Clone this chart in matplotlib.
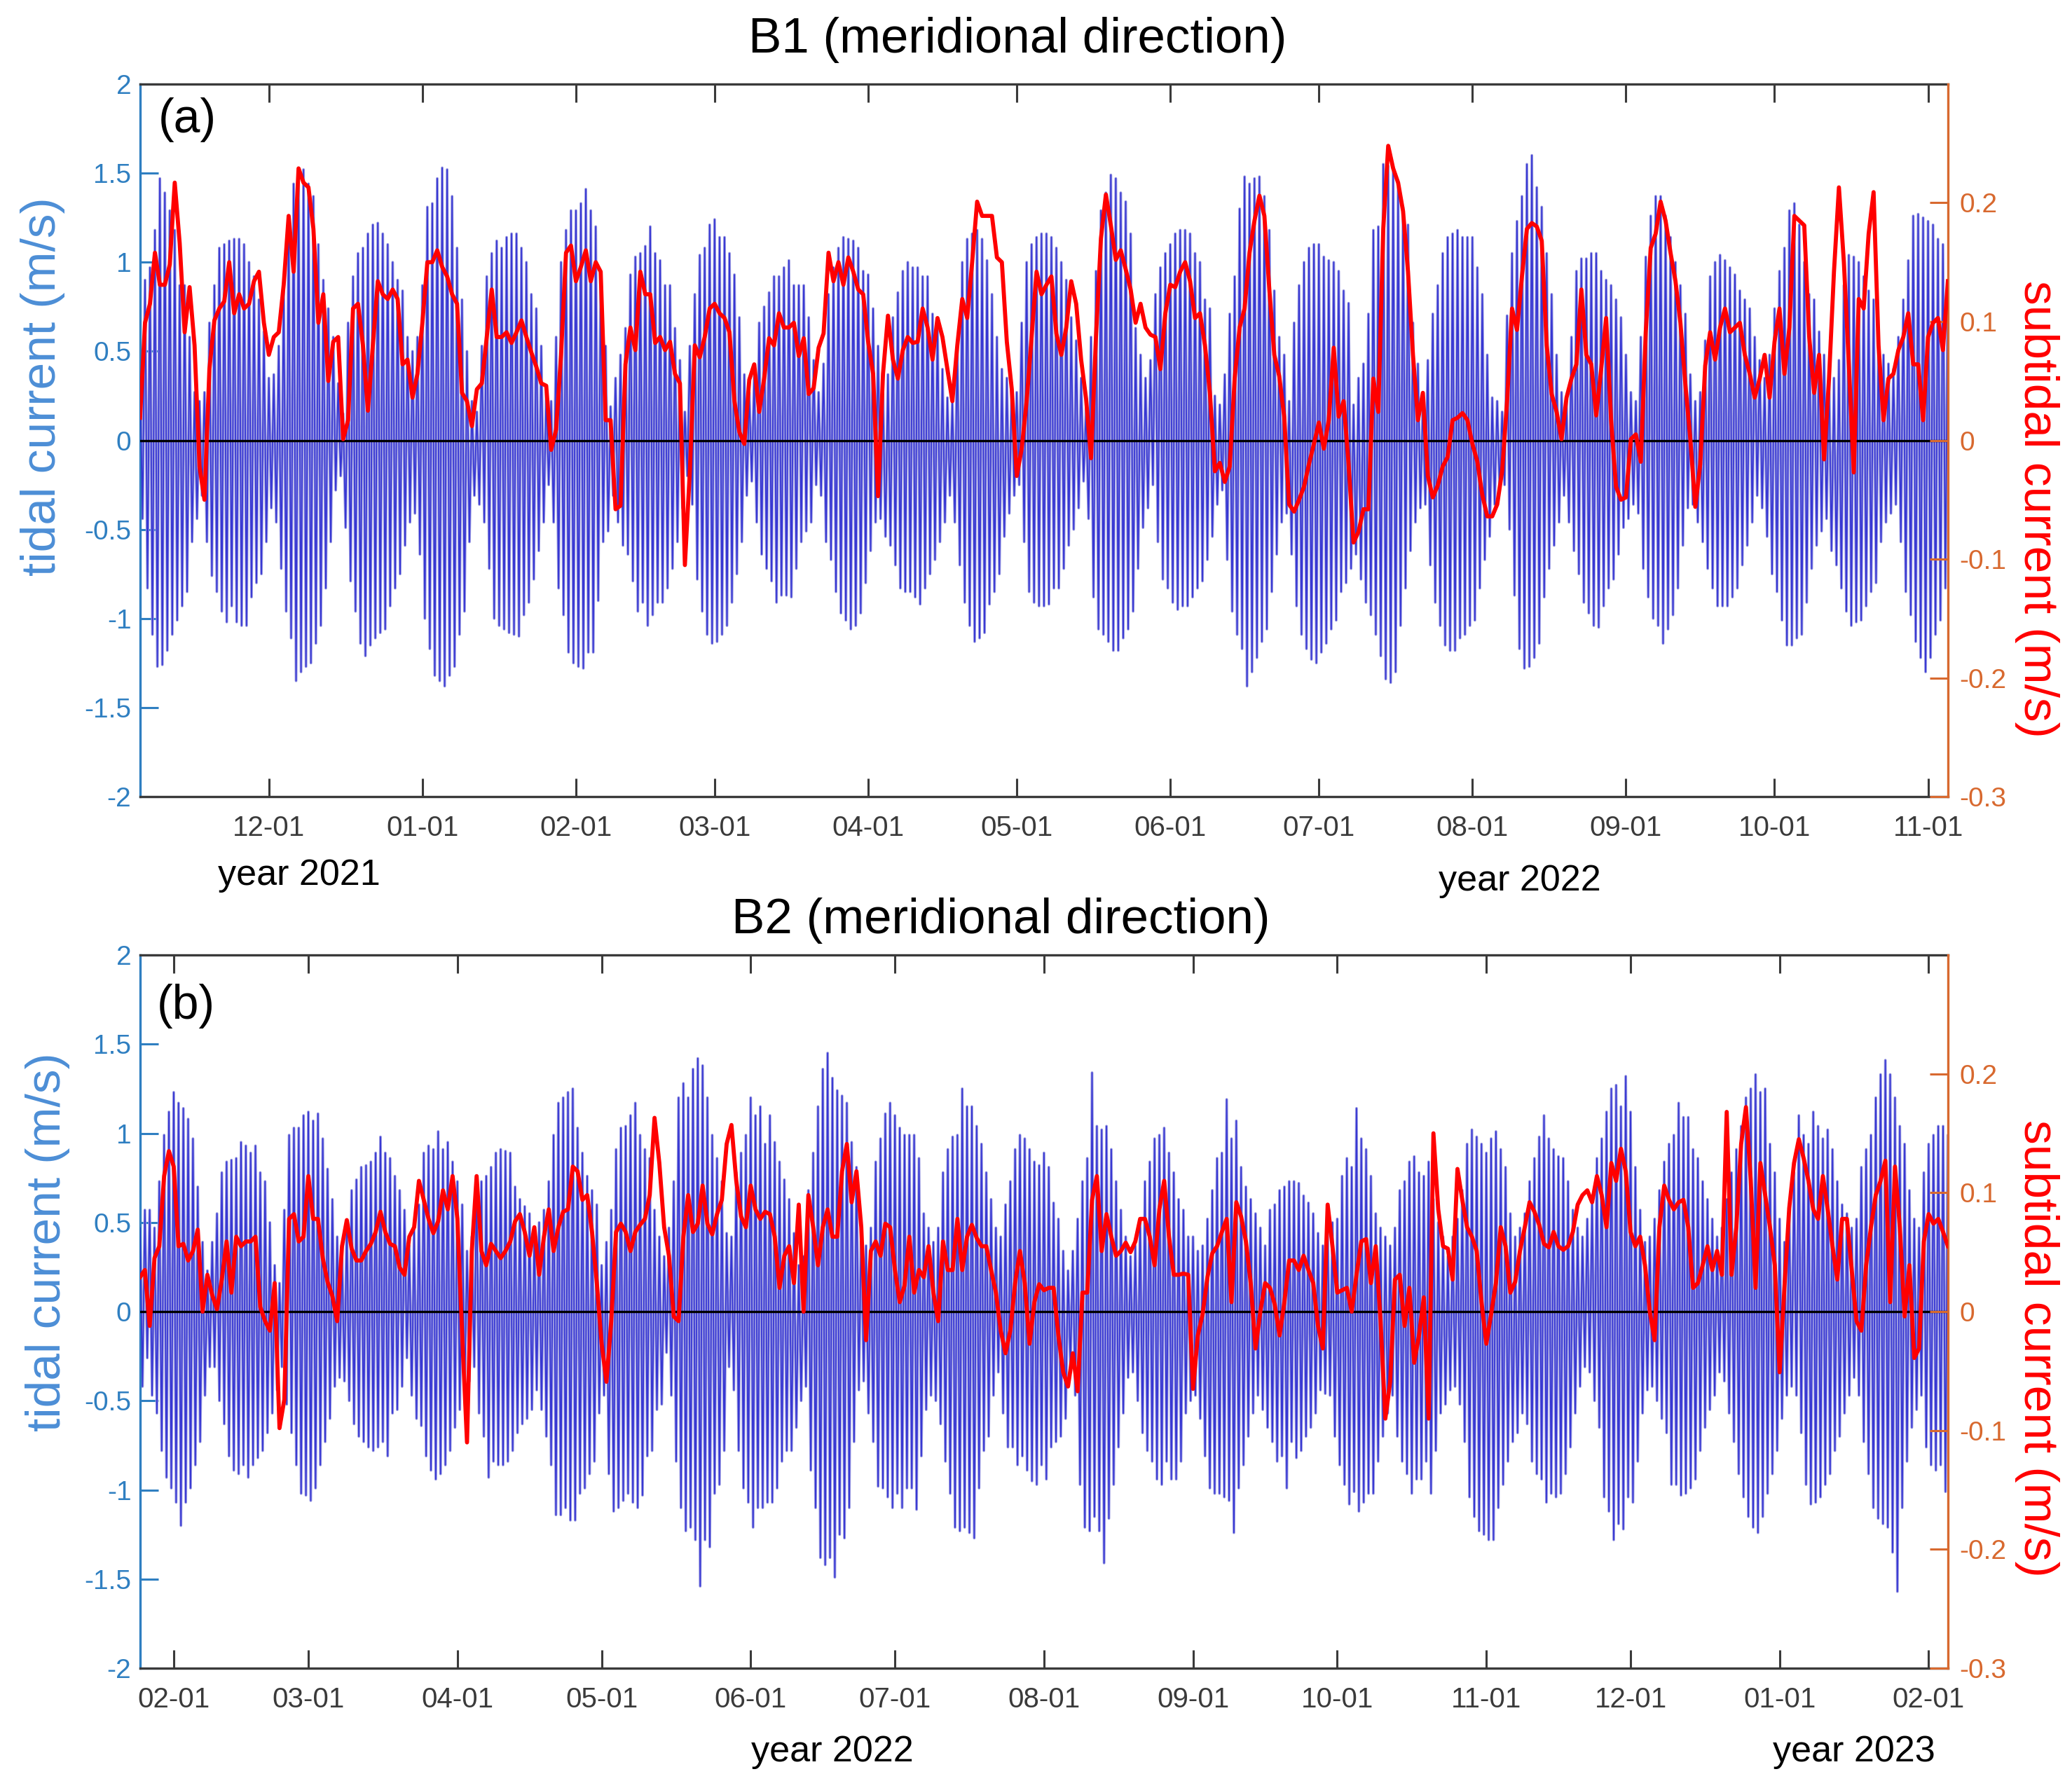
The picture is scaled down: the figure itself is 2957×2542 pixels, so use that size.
import numpy as np
import pandas as pd
import matplotlib
matplotlib.use("Agg")
import matplotlib.pyplot as plt
import matplotlib.dates as mdates

plt.rcParams['font.family'] = ['Liberation Sans', 'DejaVu Sans']

# ---------------- data (daily values) ----------------
START_A = '2021-11-05'
END_A = '2022-11-05'
START_B = '2022-01-25'
END_B = '2023-02-05'

# panel (a) B1: daily high / low of the tidal current (m/s)
tide_hi_a = [
    0.35, 0.90, 0.97, 1.18, 1.47, 1.39, 1.29, 1.18, 0.87, 0.87,
    0.58, 0.27, 0.22, 0.27, 0.66, 0.87, 1.08, 1.10, 1.12, 1.13,
    1.13, 1.10, 1.00, 0.92, 0.79, 0.61, 0.35, 0.37, 0.53, 0.87,
    1.26, 1.44, 1.50, 1.52, 1.44, 1.37, 1.10, 0.90, 0.74, 0.58,
    0.32, 0.15, 0.66, 0.92, 1.05, 1.08, 1.16, 1.21, 1.22, 1.16,
    1.10, 1.00, 0.90, 0.84, 0.58, 0.50, 0.58, 0.87, 1.31, 1.33,
    1.47, 1.53, 1.52, 1.37, 1.08, 0.79, 0.50, 0.22, 0.16, 0.53,
    0.92, 1.05, 1.12, 1.08, 1.14, 1.16, 1.16, 1.08, 1.00, 0.82,
    0.74, 0.53, 0.27, 0.22, 0.58, 1.00, 1.18, 1.29, 1.29, 1.33,
    1.41, 1.29, 1.20, 0.95, 0.53, 0.19, 0.35, 0.48, 0.63, 0.93,
    1.03, 1.05, 1.09, 1.20, 1.05, 1.01, 0.87, 0.87, 0.63, 0.45,
    0.16, 0.53, 0.82, 1.04, 1.08, 1.21, 1.24, 1.14, 1.14, 1.05,
    0.93, 0.69, 0.37, 0.27, 0.37, 0.66, 0.75, 0.83, 0.92, 0.92,
    0.97, 1.01, 0.87, 0.87, 0.87, 0.69, 0.45, 0.27, 0.43, 0.82,
    0.97, 1.08, 1.14, 1.13, 1.12, 1.08, 0.95, 0.93, 0.74, 0.53,
    0.27, 0.37, 0.69, 0.83, 0.95, 1.00, 0.97, 0.97, 0.92, 0.92,
    0.71, 0.67, 0.40, 0.24, 0.22, 0.56, 1.00, 1.13, 1.16, 1.18,
    1.13, 1.01, 0.82, 0.58, 0.40, 0.35, 0.32, 0.27, 0.66, 1.00,
    1.10, 1.14, 1.16, 1.16, 1.14, 1.08, 1.00, 0.90, 0.69, 0.56,
    0.35, 0.19, 0.58, 0.95, 1.29, 1.39, 1.49, 1.47, 1.39, 1.34,
    1.16, 0.63, 0.48, 0.35, 0.45, 0.82, 0.97, 1.05, 1.10, 1.16,
    1.18, 1.18, 1.16, 1.05, 1.00, 0.79, 0.74, 0.25, 0.20, 0.37,
    0.71, 0.92, 1.30, 1.48, 1.44, 1.47, 1.48, 1.37, 1.18, 0.84,
    0.58, 0.48, 0.22, 0.66, 0.87, 1.00, 1.08, 1.10, 1.10, 1.03,
    1.01, 1.00, 0.95, 0.84, 0.77, 0.20, 0.35, 0.43, 0.71, 1.18,
    1.20, 1.55, 1.54, 1.51, 1.42, 1.31, 1.21, 0.66, 0.43, 0.22,
    0.45, 0.71, 0.87, 1.05, 1.14, 1.16, 1.18, 1.14, 1.14, 1.14,
    0.97, 0.82, 0.48, 0.24, 0.22, 0.16, 0.70, 1.05, 1.23, 1.37,
    1.55, 1.60, 1.42, 1.31, 1.05, 0.82, 0.48, 0.27, 0.22, 0.58,
    0.95, 1.02, 1.02, 1.05, 1.05, 0.95, 0.90, 0.87, 0.79, 0.69,
    0.48, 0.27, 0.22, 0.58, 1.03, 1.26, 1.37, 1.37, 1.26, 1.14,
    1.00, 0.87, 0.71, 0.37, 0.22, 0.27, 0.56, 0.92, 1.00, 1.04,
    1.01, 0.97, 0.93, 0.84, 0.79, 0.74, 0.58, 0.45, 0.35, 0.48,
    0.74, 0.95, 1.08, 1.29, 1.33, 1.21, 1.00, 0.82, 0.79, 0.61,
    0.48, 0.37, 0.35, 0.45, 0.87, 1.04, 1.03, 1.00, 0.92, 0.84,
    0.79, 0.61, 0.48, 0.43, 0.40, 0.58, 0.79, 1.01, 1.26, 1.27,
    1.25, 1.23, 1.21, 1.13, 1.10, 0.90,
]
tide_lo_a = [
    -0.44, -0.83, -1.09, -1.27, -1.26, -1.18, -1.09, -1.01, -0.93, -0.85,
    -0.57, -0.44, -0.31, -0.57, -0.76, -0.85, -0.96, -1.02, -0.93, -1.02,
    -1.04, -1.04, -0.88, -0.80, -0.75, -0.57, -0.38, -0.46, -0.72, -0.96,
    -1.11, -1.35, -1.30, -1.27, -1.25, -1.14, -1.04, -0.83, -0.57, -0.28,
    -0.20, -0.49, -0.79, -0.96, -1.14, -1.21, -1.15, -1.11, -1.08, -1.06,
    -0.93, -0.83, -0.75, -0.59, -0.46, -0.41, -0.64, -1.00, -1.17, -1.32,
    -1.35, -1.38, -1.32, -1.27, -1.09, -0.96, -0.57, -0.31, -0.36, -0.46,
    -0.72, -1.00, -1.04, -1.06, -1.08, -1.09, -1.10, -0.98, -0.91, -0.78,
    -0.62, -0.46, -0.25, -0.46, -0.83, -0.98, -1.19, -1.25, -1.27, -1.28,
    -1.19, -1.19, -0.90, -0.57, -0.51, -0.31, -0.46, -0.59, -0.64, -0.79,
    -0.96, -0.91, -1.04, -0.98, -0.91, -0.91, -0.83, -0.72, -0.57, -0.38,
    -0.20, -0.36, -0.78, -0.96, -1.09, -1.14, -1.13, -1.09, -1.04, -0.91,
    -0.75, -0.57, -0.31, -0.23, -0.46, -0.64, -0.72, -0.79, -0.91, -0.87,
    -0.87, -0.88, -0.72, -0.57, -0.51, -0.46, -0.25, -0.31, -0.57, -0.67,
    -0.85, -0.97, -1.01, -1.06, -1.04, -0.97, -0.80, -0.62, -0.46, -0.44,
    -0.54, -0.59, -0.70, -0.83, -0.85, -0.85, -0.88, -0.92, -0.83, -0.75,
    -0.67, -0.57, -0.46, -0.31, -0.46, -0.70, -0.91, -1.04, -1.13, -1.11,
    -1.08, -0.92, -0.85, -0.75, -0.54, -0.41, -0.31, -0.25, -0.57, -0.85,
    -0.91, -0.93, -0.93, -0.92, -0.83, -0.83, -0.72, -0.59, -0.50, -0.38,
    -0.23, -0.44, -0.88, -1.06, -1.09, -1.13, -1.18, -1.18, -1.11, -1.06,
    -0.96, -0.72, -0.49, -0.38, -0.25, -0.57, -0.78, -0.83, -0.91, -0.95,
    -0.93, -0.93, -0.88, -0.83, -0.79, -0.67, -0.54, -0.36, -0.28, -0.67,
    -0.96, -1.09, -1.17, -1.38, -1.30, -1.22, -1.13, -1.06, -0.85, -0.64,
    -0.46, -0.41, -0.64, -0.93, -1.09, -1.17, -1.23, -1.25, -1.19, -1.14,
    -1.06, -1.01, -0.85, -0.80, -0.72, -0.64, -0.78, -0.91, -0.98, -1.09,
    -1.21, -1.34, -1.36, -1.30, -1.04, -0.83, -0.62, -0.46, -0.38, -0.36,
    -0.70, -0.91, -1.04, -1.15, -1.18, -1.18, -1.11, -1.09, -1.04, -1.01,
    -0.83, -0.67, -0.54, -0.36, -0.28, -0.25, -0.50, -0.87, -1.17, -1.28,
    -1.27, -1.22, -1.14, -0.88, -0.72, -0.59, -0.46, -0.31, -0.46, -0.62,
    -0.75, -0.91, -0.97, -1.04, -1.05, -0.93, -0.83, -0.78, -0.64, -0.49,
    -0.44, -0.36, -0.41, -0.72, -0.88, -1.00, -1.04, -1.14, -1.06, -0.98,
    -0.83, -0.59, -0.38, -0.36, -0.46, -0.57, -0.72, -0.83, -0.93, -0.93,
    -0.93, -0.88, -0.83, -0.70, -0.59, -0.46, -0.31, -0.38, -0.54, -0.75,
    -0.85, -1.01, -1.15, -1.15, -1.11, -1.09, -0.91, -0.72, -0.59, -0.51,
    -0.44, -0.62, -0.70, -0.83, -0.96, -1.04, -1.02, -1.01, -0.93, -0.85,
    -0.80, -0.57, -0.46, -0.41, -0.36, -0.57, -0.85, -0.98, -1.13, -1.22,
    -1.30, -1.22, -1.09, -1.01, -0.83, -0.78,
]
# panel (a) B1: subtidal current (m/s), daily
sub_a = [
    0.019, 0.099, 0.115, 0.158, 0.131, 0.131, 0.148, 0.217, 0.166, 0.091,
    0.129, 0.080, -0.022, -0.050, 0.060, 0.101, 0.111, 0.117, 0.150, 0.107,
    0.123, 0.111, 0.115, 0.134, 0.142, 0.099, 0.072, 0.087, 0.091, 0.131,
    0.189, 0.142, 0.229, 0.217, 0.213, 0.178, 0.099, 0.123, 0.050, 0.083,
    0.087, 0.001, 0.017, 0.111, 0.115, 0.080, 0.025, 0.080, 0.134, 0.123,
    0.119, 0.127, 0.119, 0.064, 0.068, 0.036, 0.056, 0.099, 0.150, 0.150,
    0.160, 0.146, 0.138, 0.123, 0.115, 0.040, 0.033, 0.012, 0.043, 0.048,
    0.087, 0.127, 0.087, 0.087, 0.091, 0.082, 0.091, 0.101, 0.087, 0.074,
    0.062, 0.048, 0.046, -0.008, 0.009, 0.072, 0.158, 0.164, 0.134, 0.146,
    0.160, 0.134, 0.150, 0.142, 0.017, 0.017, -0.058, -0.055, 0.064, 0.095,
    0.076, 0.142, 0.123, 0.123, 0.082, 0.087, 0.076, 0.083, 0.056, 0.048,
    -0.105, -0.026, 0.080, 0.070, 0.087, 0.111, 0.115, 0.107, 0.103, 0.091,
    0.033, 0.007, -0.003, 0.051, 0.064, 0.024, 0.052, 0.086, 0.080, 0.107,
    0.095, 0.095, 0.099, 0.071, 0.086, 0.039, 0.044, 0.078, 0.090, 0.158,
    0.134, 0.150, 0.131, 0.154, 0.142, 0.127, 0.123, 0.083, 0.056, -0.047,
    0.056, 0.105, 0.068, 0.052, 0.076, 0.087, 0.082, 0.083, 0.111, 0.095,
    0.068, 0.103, 0.087, 0.060, 0.033, 0.080, 0.119, 0.103, 0.150, 0.201,
    0.189, 0.189, 0.189, 0.154, 0.150, 0.083, 0.043, -0.030, -0.007, 0.033,
    0.087, 0.142, 0.123, 0.131, 0.138, 0.090, 0.072, 0.095, 0.134, 0.115,
    0.068, 0.035, -0.015, 0.087, 0.170, 0.207, 0.181, 0.152, 0.160, 0.144,
    0.127, 0.099, 0.115, 0.095, 0.089, 0.087, 0.060, 0.107, 0.131, 0.129,
    0.142, 0.150, 0.134, 0.103, 0.107, 0.080, 0.040, -0.026, -0.019, -0.035,
    -0.022, 0.052, 0.095, 0.111, 0.158, 0.185, 0.206, 0.189, 0.127, 0.072,
    0.054, 0.020, -0.054, -0.060, -0.050, -0.039, -0.020, -0.003, 0.015, -0.007,
    0.017, 0.078, 0.020, 0.033, -0.020, -0.086, -0.077, -0.058, -0.058, 0.052,
    0.024, 0.178, 0.248, 0.229, 0.217, 0.193, 0.142, 0.072, 0.017, 0.040,
    -0.030, -0.048, -0.038, -0.022, -0.014, 0.017, 0.019, 0.023, 0.017, -0.003,
    -0.018, -0.046, -0.064, -0.064, -0.054, -0.026, 0.033, 0.111, 0.093, 0.138,
    0.178, 0.183, 0.180, 0.168, 0.080, 0.039, 0.024, 0.001, 0.036, 0.052,
    0.064, 0.127, 0.072, 0.064, 0.021, 0.060, 0.103, 0.017, -0.039, -0.050,
    -0.048, 0.001, 0.005, -0.018, 0.091, 0.162, 0.174, 0.201, 0.185, 0.158,
    0.134, 0.099, 0.047, 0.001, -0.056, -0.020, 0.063, 0.091, 0.068, 0.095,
    0.111, 0.091, 0.095, 0.099, 0.072, 0.056, 0.036, 0.052, 0.072, 0.036,
    0.083, 0.111, 0.056, 0.095, 0.189, 0.185, 0.181, 0.087, 0.040, 0.072,
    -0.016, 0.052, 0.142, 0.213, 0.150, 0.064, -0.027, 0.119, 0.111, 0.174,
    0.209, 0.080, 0.017, 0.052, 0.056, 0.076, 0.087, 0.107, 0.064, 0.064,
    0.017, 0.087, 0.099, 0.103, 0.076, 0.134,
]

# panel (b) B2
tide_hi_b = [
    0.47, 0.57, 0.57, 0.47, 0.73, 0.99, 1.12, 1.23, 1.17, 1.14,
    1.08, 0.97, 0.70, 0.39, 0.23, 0.39, 0.55, 0.78, 0.84, 0.85,
    0.86, 0.95, 0.93, 0.89, 0.93, 0.78, 0.73, 0.50, 0.26, 0.16,
    0.57, 0.99, 1.03, 1.03, 1.10, 1.12, 1.07, 1.11, 0.97, 0.80,
    0.63, 0.42, 0.34, 0.50, 0.68, 0.74, 0.81, 0.82, 0.84, 0.89,
    0.98, 0.89, 0.86, 0.76, 0.68, 0.57, 0.37, 0.47, 0.60, 0.89,
    0.93, 0.91, 1.01, 0.91, 0.95, 0.84, 0.73, 0.60, 0.34, 0.42,
    0.73, 0.73, 0.76, 0.81, 0.89, 0.91, 0.90, 0.89, 0.70, 0.63,
    0.59, 0.55, 0.47, 0.50, 0.57, 0.73, 0.99, 1.17, 1.20, 1.23,
    1.25, 1.03, 0.89, 0.76, 0.68, 0.60, 0.26, 0.39, 0.57, 0.91,
    1.03, 1.04, 1.10, 1.17, 0.99, 0.91, 0.86, 0.57, 0.42, 0.31,
    0.47, 0.73, 1.20, 1.28, 1.20, 1.36, 1.42, 1.38, 1.20, 0.99,
    0.86, 0.73, 0.44, 0.42, 0.78, 0.89, 0.99, 1.20, 1.10, 1.15,
    0.94, 1.10, 0.95, 0.84, 0.74, 0.63, 0.44, 0.26, 0.31, 0.68,
    0.89, 1.15, 1.36, 1.45, 1.31, 1.24, 1.21, 1.17, 0.95, 0.81,
    0.52, 0.37, 0.47, 0.84, 0.97, 1.11, 1.17, 1.10, 1.03, 0.99,
    0.99, 0.99, 0.86, 0.55, 0.47, 0.39, 0.47, 0.78, 0.91, 0.98,
    0.99, 1.25, 1.15, 1.15, 1.04, 0.94, 0.78, 0.63, 0.47, 0.42,
    0.60, 0.73, 0.91, 0.99, 0.97, 0.91, 0.84, 0.82, 0.89, 0.81,
    0.61, 0.52, 0.34, 0.23, 0.34, 0.52, 0.73, 0.86, 1.34, 1.04,
    1.02, 1.04, 0.91, 0.73, 0.57, 0.42, 0.31, 0.37, 0.52, 0.73,
    0.84, 0.97, 0.99, 1.03, 0.89, 0.78, 0.63, 0.57, 0.42, 0.42,
    0.34, 0.37, 0.52, 0.68, 0.86, 0.89, 1.19, 0.97, 1.07, 0.81,
    0.70, 0.63, 0.55, 0.47, 0.37, 0.57, 0.60, 0.68, 0.70, 0.73,
    0.73, 0.72, 0.65, 0.61, 0.55, 0.44, 0.37, 0.47, 0.50, 0.52,
    0.76, 0.86, 0.81, 1.14, 0.97, 0.91, 0.76, 0.55, 0.47, 0.42,
    0.37, 0.47, 0.68, 0.73, 0.84, 0.87, 0.78, 0.76, 0.84, 0.63,
    0.50, 0.42, 0.31, 0.42, 0.52, 0.68, 0.94, 1.02, 0.98, 0.94,
    0.89, 0.97, 1.01, 0.91, 0.81, 0.55, 0.42, 0.47, 0.55, 0.73,
    0.86, 0.98, 1.10, 0.97, 0.91, 0.87, 0.86, 0.73, 0.57, 0.47,
    0.42, 0.52, 0.63, 0.86, 0.97, 1.12, 1.25, 1.27, 1.15, 1.32,
    1.12, 0.81, 0.57, 0.39, 0.42, 0.52, 0.68, 0.84, 0.94, 0.99,
    1.17, 1.09, 1.09, 0.91, 0.86, 0.73, 0.63, 0.52, 0.42, 0.47,
    0.63, 0.78, 0.91, 1.04, 1.20, 1.25, 1.33, 1.23, 1.25, 0.94,
    0.78, 0.52, 0.39, 0.57, 0.78, 1.10, 0.99, 0.94, 1.12, 1.04,
    0.97, 1.02, 0.91, 0.73, 0.60, 0.55, 0.47, 0.52, 0.81, 0.91,
    0.99, 1.20, 1.33, 1.41, 1.33, 1.20, 1.04, 0.94, 0.68, 0.52,
    0.47, 0.78, 0.94, 0.99, 1.04, 1.04, 0.99,
]
tide_lo_b = [
    -0.42, -0.26, -0.47, -0.57, -0.78, -0.93, -0.99, -1.07, -1.20, -1.07,
    -0.99, -0.86, -0.73, -0.47, -0.31, -0.31, -0.50, -0.63, -0.81, -0.89,
    -0.91, -0.86, -0.93, -0.86, -0.82, -0.78, -0.68, -0.57, -0.44, -0.31,
    -0.52, -0.68, -0.86, -1.02, -1.03, -1.06, -0.99, -0.86, -0.73, -0.60,
    -0.42, -0.37, -0.39, -0.50, -0.63, -0.70, -0.73, -0.76, -0.78, -0.76,
    -0.73, -0.81, -0.57, -0.55, -0.42, -0.26, -0.47, -0.60, -0.64, -0.81,
    -0.89, -0.94, -0.91, -0.86, -0.78, -0.65, -0.55, -0.47, -0.39, -0.31,
    -0.57, -0.70, -0.93, -0.84, -0.86, -0.86, -0.84, -0.78, -0.68, -0.63,
    -0.60, -0.55, -0.44, -0.55, -0.70, -0.86, -1.14, -1.14, -1.10, -1.17,
    -1.17, -1.02, -0.99, -0.91, -0.84, -0.57, -0.47, -0.91, -1.12, -1.10,
    -1.06, -1.02, -1.07, -1.10, -1.03, -0.81, -0.78, -0.55, -0.52, -0.23,
    -0.47, -0.84, -1.10, -1.23, -1.21, -1.28, -1.54, -1.28, -1.32, -1.02,
    -0.97, -0.78, -0.31, -0.44, -0.78, -0.99, -1.07, -1.21, -1.10, -1.10,
    -1.07, -1.07, -0.99, -0.84, -0.78, -0.78, -0.65, -0.50, -0.42, -0.89,
    -1.10, -1.38, -1.42, -1.38, -1.49, -1.25, -1.27, -1.10, -0.73, -0.44,
    -0.39, -0.57, -0.73, -0.98, -0.99, -1.04, -1.10, -1.02, -1.10, -0.99,
    -0.99, -1.11, -0.81, -0.55, -0.47, -0.50, -0.63, -0.84, -1.02, -1.21,
    -1.23, -1.21, -1.24, -1.27, -0.99, -0.78, -0.70, -0.47, -0.34, -0.57,
    -0.76, -0.76, -0.86, -0.81, -0.89, -0.95, -0.97, -0.86, -0.94, -0.76,
    -0.73, -0.70, -0.60, -0.31, -0.47, -0.97, -1.21, -1.23, -1.15, -1.23,
    -1.41, -1.16, -0.97, -0.76, -0.57, -0.37, -0.34, -0.50, -0.68, -0.78,
    -0.84, -0.94, -0.97, -0.84, -0.94, -0.94, -0.84, -0.57, -0.50, -0.47,
    -0.60, -0.81, -0.99, -1.02, -1.02, -1.04, -1.06, -1.24, -0.99, -0.86,
    -0.70, -0.57, -0.47, -0.55, -0.65, -0.73, -0.84, -0.81, -0.99, -0.73,
    -0.82, -0.78, -0.70, -0.65, -0.57, -0.44, -0.46, -0.47, -0.70, -0.86,
    -0.97, -1.08, -1.01, -1.12, -1.07, -1.02, -1.02, -0.84, -0.70, -0.57,
    -0.47, -0.70, -0.84, -0.91, -1.02, -0.94, -0.94, -0.84, -1.02, -0.78,
    -0.57, -0.52, -0.44, -0.42, -0.52, -0.73, -1.04, -1.15, -1.23, -1.25,
    -1.28, -1.28, -1.10, -0.97, -0.84, -0.73, -0.68, -0.57, -0.63, -0.84,
    -0.91, -0.94, -1.07, -1.02, -1.04, -1.02, -0.91, -0.76, -0.57, -0.42,
    -0.31, -0.34, -0.50, -0.65, -1.04, -1.12, -1.28, -1.19, -1.22, -1.04,
    -1.07, -0.84, -0.57, -0.44, -0.42, -0.50, -0.60, -0.68, -0.97, -0.97,
    -1.03, -1.02, -0.99, -0.94, -0.78, -0.65, -0.55, -0.47, -0.34, -0.39,
    -0.57, -0.73, -0.91, -1.04, -1.15, -1.21, -1.24, -1.15, -1.02, -0.91,
    -0.78, -0.60, -0.47, -0.42, -0.47, -0.68, -0.97, -1.08, -1.07, -1.04,
    -0.97, -0.91, -0.78, -0.70, -0.57, -0.47, -0.37, -0.47, -0.73, -0.91,
    -1.10, -1.16, -1.19, -1.21, -1.35, -1.57, -1.10, -0.84, -0.65, -0.55,
    -0.47, -0.76, -0.86, -0.89, -0.86, -1.01, -0.89,
]
sub_b = [
    0.029, 0.035, -0.012, 0.045, 0.055, 0.114, 0.135, 0.122, 0.055, 0.057,
    0.043, 0.051, 0.069, 0.000, 0.031, 0.014, 0.002, 0.027, 0.059, 0.016,
    0.063, 0.055, 0.059, 0.059, 0.063, 0.004, -0.008, -0.016, 0.024, -0.098,
    -0.074, 0.078, 0.082, 0.059, 0.063, 0.114, 0.078, 0.078, 0.045, 0.025,
    0.013, -0.008, 0.055, 0.077, 0.053, 0.043, 0.043, 0.051, 0.057, 0.067,
    0.084, 0.067, 0.057, 0.055, 0.037, 0.031, 0.063, 0.071, 0.110, 0.094,
    0.078, 0.066, 0.076, 0.102, 0.086, 0.114, 0.078, -0.020, -0.110, 0.051,
    0.114, 0.051, 0.039, 0.057, 0.051, 0.045, 0.051, 0.059, 0.076, 0.082,
    0.067, 0.047, 0.071, 0.031, 0.063, 0.086, 0.051, 0.071, 0.084, 0.086,
    0.122, 0.118, 0.094, 0.098, 0.067, 0.024, -0.027, -0.059, -0.008, 0.067,
    0.074, 0.067, 0.051, 0.067, 0.073, 0.078, 0.098, 0.163, 0.125, 0.071,
    0.047, -0.004, -0.008, 0.063, 0.098, 0.067, 0.074, 0.106, 0.074, 0.065,
    0.082, 0.094, 0.141, 0.157, 0.110, 0.080, 0.071, 0.106, 0.086, 0.078,
    0.084, 0.082, 0.063, 0.020, 0.047, 0.055, 0.024, 0.090, 0.000, 0.098,
    0.071, 0.039, 0.071, 0.086, 0.063, 0.063, 0.118, 0.141, 0.092, 0.118,
    0.071, -0.024, 0.051, 0.059, 0.047, 0.074, 0.071, 0.035, 0.008, 0.022,
    0.063, 0.016, 0.035, 0.029, 0.055, 0.016, -0.008, 0.059, 0.035, 0.035,
    0.078, 0.035, 0.063, 0.073, 0.062, 0.055, 0.055, 0.035, 0.016, -0.016,
    -0.035, -0.016, 0.024, 0.051, 0.024, -0.027, 0.008, 0.023, 0.018, 0.020,
    0.020, -0.020, -0.051, -0.063, -0.035, -0.067, 0.016, 0.016, 0.094, 0.114,
    0.051, 0.082, 0.063, 0.047, 0.051, 0.058, 0.050, 0.059, 0.078, 0.078,
    0.063, 0.039, 0.086, 0.110, 0.063, 0.031, 0.031, 0.032, 0.031, -0.065,
    -0.020, -0.002, 0.029, 0.049, 0.055, 0.067, 0.078, 0.008, 0.092, 0.080,
    0.059, 0.024, -0.031, 0.000, 0.024, 0.020, 0.006, -0.020, 0.008, 0.043,
    0.043, 0.035, 0.047, 0.035, 0.024, -0.012, -0.031, 0.090, 0.055, 0.016,
    0.018, 0.020, 0.000, 0.031, 0.059, 0.061, 0.024, 0.055, -0.008, -0.090,
    -0.059, 0.027, 0.031, -0.012, 0.020, -0.043, -0.020, 0.012, -0.090, 0.150,
    0.086, 0.055, 0.053, 0.027, 0.120, 0.094, 0.071, 0.063, 0.051, 0.008,
    -0.027, -0.002, 0.024, 0.071, 0.055, 0.016, 0.025, 0.051, 0.071, 0.092,
    0.084, 0.073, 0.057, 0.054, 0.067, 0.055, 0.052, 0.055, 0.067, 0.090,
    0.098, 0.102, 0.092, 0.114, 0.098, 0.071, 0.125, 0.110, 0.137, 0.118,
    0.067, 0.055, 0.063, 0.039, 0.000, -0.024, 0.071, 0.106, 0.094, 0.086,
    0.092, 0.094, 0.071, 0.020, 0.024, 0.039, 0.055, 0.035, 0.051, 0.031,
    0.168, 0.031, 0.071, 0.141, 0.172, 0.110, 0.020, 0.125, 0.098, 0.071,
    0.039, -0.051, 0.020, 0.087, 0.125, 0.145, 0.129, 0.110, 0.086, 0.078,
    0.114, 0.086, 0.055, 0.027, 0.078, 0.078, 0.035, -0.008, -0.016, 0.039,
    0.071, 0.098, 0.110, 0.127, 0.008, 0.122, 0.071, -0.004, 0.039, -0.039,
    -0.031, 0.059, 0.082, 0.074, 0.078, 0.067, 0.055,
]

left_ticks = [-2, -1.5, -1, -0.5, 0, 0.5, 1, 1.5, 2]
left_tick_labels = ['-2', '-1.5', '-1', '-0.5', '0', '0.5', '1', '1.5', '2']
right_ticks = [-0.3, -0.2, -0.1, 0, 0.1, 0.2]
right_tick_labels = ['-0.3', '-0.2', '-0.1', '0', '0.1', '0.2']

# ---------------- styling ----------------
BLUE_AX = '#2F7FC1'
BLUE_LABEL = '#4C8ED6'
ORANGE_AX = '#D8692F'
GRAY = '#3A3A3A'

fig = plt.figure(figsize=(29.57, 25.42), dpi=100)


def tidal_zigzag(start, hi, lo):
    n = min(len(hi), len(lo))
    days = pd.date_range(start, periods=n, freq='D')
    t = np.empty(2 * n, dtype='datetime64[ns]')
    t[0::2] = days.values
    t[1::2] = (days + pd.Timedelta(hours=12)).values
    v = np.empty(2 * n)
    v[0::2] = np.asarray(hi[:n])
    v[1::2] = np.asarray(lo[:n])
    return t, v


def draw_panel(rect, start, end, hi, lo, sub):
    ax = fig.add_axes(rect)
    t, v = tidal_zigzag(start, hi, lo)
    ax.plot(t, v, color='#9E9EE2', lw=2.8, zorder=2)
    ax.plot(t, v, color='#2C2CD2', lw=1.3, alpha=0.9, zorder=3)
    ax.axhline(0, color='black', lw=2.4, zorder=4)
    ax.set_ylim(-2, 2)
    ax.set_xlim(pd.Timestamp(start), pd.Timestamp(end))
    ax.set_yticks(left_ticks)
    ax.set_yticklabels(left_tick_labels)
    ax.xaxis.set_major_locator(mdates.MonthLocator())
    ax.xaxis.set_major_formatter(mdates.DateFormatter('%m-%d'))
    ax.tick_params(axis='y', direction='in', length=19, width=2.2,
                   color=BLUE_AX, labelcolor=BLUE_AX, labelsize=28, pad=9,
                   right=False)
    ax.tick_params(axis='x', direction='in', length=19, width=2.2,
                   color=GRAY, labelcolor=GRAY, labelsize=29, pad=19,
                   top=True)
    ax.spines['left'].set_color(BLUE_AX)
    ax.spines['left'].set_linewidth(2.4)
    for s in ('top', 'bottom'):
        ax.spines[s].set_color(GRAY)
        ax.spines[s].set_linewidth(2.4)
    ax.spines['right'].set_visible(False)

    ax2 = ax.twinx()
    days = pd.date_range(start, periods=len(sub), freq='D')
    ax2.plot(days, sub, color='#FF0000', lw=4.2, zorder=5)
    ax2.set_ylim(-0.3, 0.3)
    ax2.set_yticks(right_ticks)
    ax2.set_yticklabels(right_tick_labels)
    ax2.tick_params(axis='y', direction='in', length=19, width=2.2,
                    color=ORANGE_AX, labelcolor=ORANGE_AX, labelsize=28,
                    pad=12, left=False)
    for s in ('left', 'top', 'bottom'):
        ax2.spines[s].set_visible(False)
    ax2.spines['right'].set_color(ORANGE_AX)
    ax2.spines['right'].set_linewidth(2.4)
    ax2.set_xlim(pd.Timestamp(start), pd.Timestamp(end))
    return ax, ax2


draw_panel([0.0676, 0.5527, 0.8725, 0.4001], START_A, END_A,
           tide_hi_a, tide_lo_a, sub_a)
draw_panel([0.0676, 0.0633, 0.8725, 0.4005], START_B, END_B,
           tide_hi_b, tide_lo_b, sub_b)

# titles and panel tags
fig.text(0.491, 0.9776, 'B1 (meridional direction)', ha='center', va='center',
         fontsize=51, color='black')
fig.text(0.483, 0.4831, 'B2 (meridional direction)', ha='center', va='center',
         fontsize=51, color='black')
fig.text(0.0903, 0.9327, '(a)', ha='center', va='center', fontsize=49)
fig.text(0.0896, 0.4351, '(b)', ha='center', va='center', fontsize=49)

# axis labels
fig.text(0.0205, 0.783, 'tidal current (m/s)', rotation=90, ha='center',
         va='center', fontsize=50, color=BLUE_LABEL)
fig.text(0.0230, 0.3025, 'tidal current (m/s)', rotation=90, ha='center',
         va='center', fontsize=50, color=BLUE_LABEL)
fig.text(0.983, 0.7144, 'subtidal current (m/s)', rotation=-90, ha='center',
         va='center', fontsize=50, color='#FF0000')
fig.text(0.983, 0.2431, 'subtidal current (m/s)', rotation=-90, ha='center',
         va='center', fontsize=50, color='#FF0000')

# year annotations
fig.text(0.1444, 0.5032, 'year 2021', ha='center', va='baseline', fontsize=37.5)
fig.text(0.7335, 0.5000, 'year 2022', ha='center', va='baseline', fontsize=37.5)
fig.text(0.4018, 0.0110, 'year 2022', ha='center', va='baseline', fontsize=37.5)
fig.text(0.8948, 0.0110, 'year 2023', ha='center', va='baseline', fontsize=37.5)

fig.savefig('out.png', dpi=100, facecolor='white')
